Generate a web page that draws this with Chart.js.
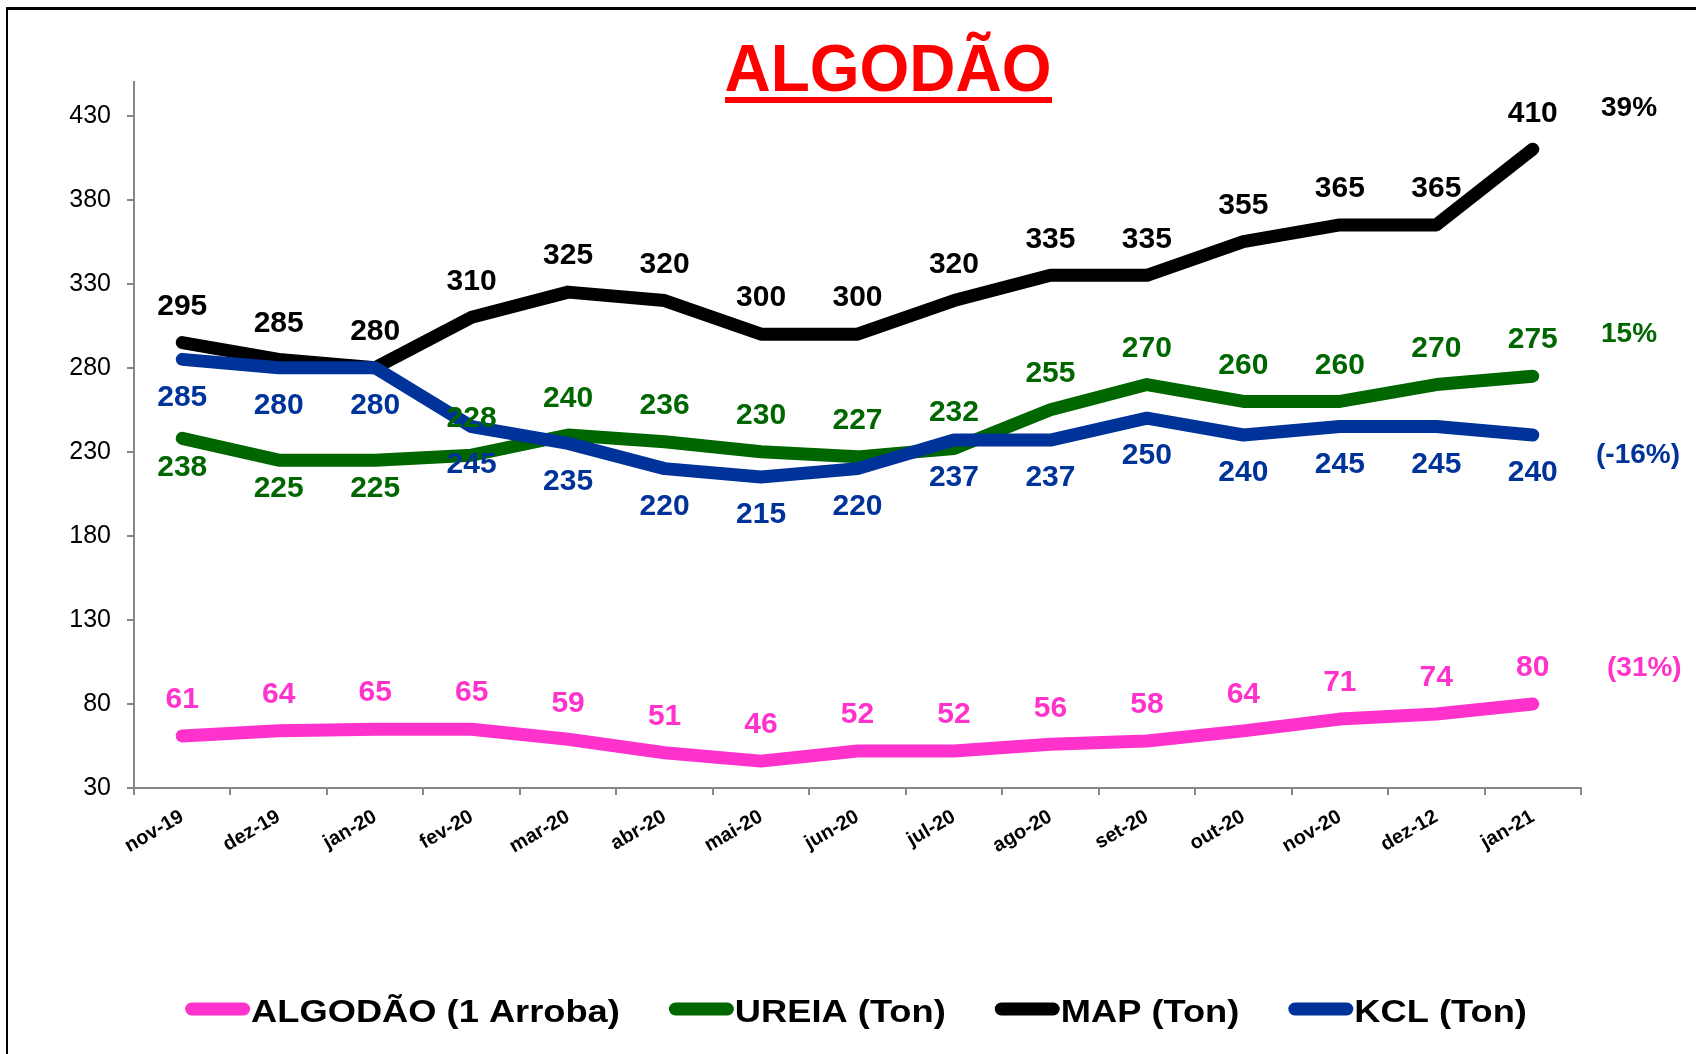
<!DOCTYPE html>
<html lang="pt">
<head>
<meta charset="utf-8">
<title>ALGODÃO</title>
<script src="https://cdn.jsdelivr.net/npm/chart.js@4.4.1/dist/chart.umd.min.js"></script>
<style>
  html, body { margin: 0; padding: 0; background: #fff; }
  .wrap { position: relative; width: 1696px; height: 1054px; }
</style>
</head>
<body>
<div class="wrap"><canvas id="algodaoChart" width="1696" height="1054"></canvas></div>
<script>
// chart data
const months = ['nov-19', 'dez-19', 'jan-20', 'fev-20', 'mar-20', 'abr-20', 'mai-20', 'jun-20',
                'jul-20', 'ago-20', 'set-20', 'out-20', 'nov-20', 'dez-12', 'jan-21'];
const algodao = [61, 64, 65, 65, 59, 51, 46, 52, 52, 56, 58, 64, 71, 74, 80];
const ureia   = [238, 225, 225, 228, 240, 236, 230, 227, 232, 255, 270, 260, 260, 270, 275];
const map     = [295, 285, 280, 310, 325, 320, 300, 300, 320, 335, 335, 355, 365, 365, 410];
const kcl     = [285, 280, 280, 245, 235, 220, 215, 220, 237, 237, 250, 240, 245, 245, 240];
const yTicks  = [30, 80, 130, 180, 230, 280, 330, 380, 430];
const seriesNames = ['ALGODÃO (1 Arroba)', 'UREIA (Ton)', 'MAP (Ton)', 'KCL (Ton)'];
const changeText  = ['(31%)', '15%', '39%', '(-16%)'];

const FONT = "'Liberation Sans', Arial, sans-serif";
const PINK = '#FF33CC', GREEN = '#006600', BLACK = '#000000', BLUE = '#003399';
const AXIS = '#878787';

// labels + title + legend drawn on top of the chart
const overlayPlugin = {
    id: 'overlay',
    beforeDraw(chart) {
        const ctx = chart.ctx;
        ctx.save();
        // frame (left + top)
        ctx.fillStyle = '#000';
        ctx.fillRect(6, 7, chart.width, 3);
        ctx.fillRect(6, 7, 2, chart.height);

        // title with underline
        ctx.fillStyle = '#FF0000';
        ctx.font = 'bold 66px ' + FONT;
        ctx.textAlign = 'center';
        ctx.textBaseline = 'alphabetic';
        ctx.translate(888, 91);
        ctx.scale(0.97, 1);
        ctx.fillText('ALGODÃO', 0, 0);
        ctx.restore();
        ctx.fillStyle = '#FF0000';
        ctx.fillRect(725, 97, 327, 6);
    },
    afterDatasetsDraw(chart) {
        const ctx = chart.ctx;
        ctx.save();
        ctx.font = 'bold 30px ' + FONT;
        ctx.textAlign = 'center';
        ctx.textBaseline = 'middle';
        chart.data.datasets.forEach((ds, i) => {
            const meta = chart.getDatasetMeta(i);
            ctx.fillStyle = ds.borderColor;
            meta.data.forEach((pt, j) => {
                const below = ds.labelBelow(j);
                const dy = below ? ds.belowOffset : -36;
                ctx.fillText(String(ds.data[j]), pt.x, pt.y + dy);
            });
            // change % at the right
            const last = meta.data[meta.data.length - 1];
            ctx.save();
            ctx.font = 'bold 28px ' + FONT;
            ctx.textAlign = 'left';
            ctx.fillText(changeText[i], chart.chartArea.right + ds.changeX, last.y + ds.changeOffset);
            ctx.restore();
        });
        ctx.restore();
    },
    afterDraw(chart) {
        const ctx = chart.ctx;
        const lineLen = 65, gap = 50, sx = 1.17;
        ctx.save();
        ctx.font = 'bold 31px ' + FONT;
        const widths = seriesNames.map(t => ctx.measureText(t).width * sx);
        const total = widths.reduce((a, b) => a + b, 0) + lineLen * 4 + gap * 3;
        let x = (chart.chartArea.left + chart.chartArea.right) / 2 - total / 2 - 2;
        const y = 1009;
        seriesNames.forEach((name, i) => {
            const ds = chart.data.datasets[i];
            ctx.strokeStyle = ds.borderColor;
            ctx.lineWidth = 13;
            ctx.lineCap = 'round';
            ctx.beginPath();
            ctx.moveTo(x + 6.5, y);
            ctx.lineTo(x + lineLen - 6.5, y);
            ctx.stroke();
            ctx.save();
            ctx.fillStyle = '#000';
            ctx.textBaseline = 'alphabetic';
            ctx.translate(x + lineLen + 1, y + 13);
            ctx.scale(sx, 1);
            ctx.fillText(name, 0, 0);
            ctx.restore();
            x += lineLen + widths[i] + gap;
        });
        ctx.restore();
    }
};

const ctx = document.getElementById('algodaoChart').getContext('2d');

new Chart(ctx, {
    type: 'line',
    data: {
        labels: months,
        datasets: [
            {
                label: seriesNames[0], data: algodao, borderColor: PINK, backgroundColor: PINK,
                order: 3, labelBelow: () => false, belowOffset: 0, changeOffset: -36, changeX: 26
            },
            {
                label: seriesNames[1], data: ureia, borderColor: GREEN, backgroundColor: GREEN,
                order: 2, labelBelow: j => j < 3, belowOffset: 29, changeOffset: -42, changeX: 20
            },
            {
                label: seriesNames[2], data: map, borderColor: BLACK, backgroundColor: BLACK,
                order: 1, labelBelow: () => false, belowOffset: 0, changeOffset: -41, changeX: 20
            },
            {
                label: seriesNames[3], data: kcl, borderColor: BLUE, backgroundColor: BLUE,
                order: 0, labelBelow: () => true, belowOffset: 38, changeOffset: 20, changeX: 15
            }
        ]
    },
    options: {
        responsive: false,
        animation: false,
        layout: { padding: { left: 16, right: 0, top: 82, bottom: 0 } },
        elements: {
            point: { radius: 0, hoverRadius: 0 },
            line: { tension: 0, borderWidth: 13, borderCapStyle: 'round', borderJoinStyle: 'round', fill: false }
        },
        plugins: {
            legend: { display: false },
            tooltip: { enabled: false },
            title: { display: false }
        },
        scales: {
            x: {
                offset: true,
                grid: { offset: true, drawOnChartArea: false, drawTicks: true, tickLength: 7, color: AXIS, lineWidth: 2 },
                border: { color: AXIS, width: 2 },
                ticks: {
                    autoSkip: false,
                    maxRotation: 30,
                    minRotation: 30,
                    padding: 10,
                    color: '#000',
                    font: { family: FONT, size: 20, weight: 'bold' }
                },
                afterFit(scale) { scale.height = 266; }
            },
            y: {
                min: 30,
                max: 450,
                afterBuildTicks(scale) { scale.ticks = yTicks.map(v => ({ value: v })); },
                grid: { drawOnChartArea: false, drawTicks: true, tickLength: 7, color: AXIS, lineWidth: 2 },
                border: { color: AXIS, width: 2 },
                ticks: { padding: 16, color: '#000', font: { family: FONT, size: 25 } },
                afterFit(scale) { scale.width = 118; }
            },
            yRight: {
                position: 'right',
                display: true,
                grid: { display: false },
                border: { display: false },
                ticks: { display: false },
                afterFit(scale) { scale.width = 115; }
            }
        }
    },
    plugins: [overlayPlugin]
});
</script>
</body>
</html>
